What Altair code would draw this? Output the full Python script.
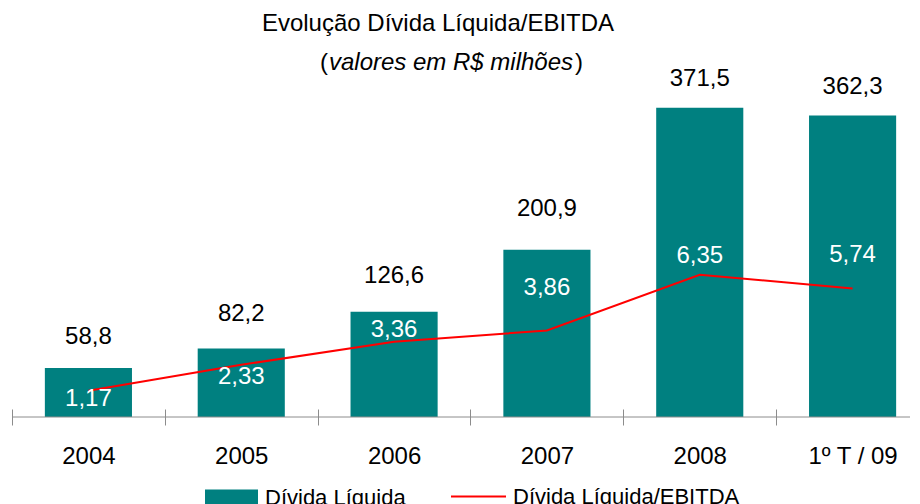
import altair as alt
import pandas as pd

# ---- data ----
categories = ["2004", "2005", "2006", "2007", "2008", "1º T / 09"]
divida_liquida = [58.8, 82.2, 126.6, 200.9, 371.5, 362.3]
divida_ebitda = [1.17, 2.33, 3.36, 3.86, 6.35, 5.74]

# ---- label placement (pixels; styling only) ----
bar_label_gap = [31, 35, 36, 41, 29, 28]          # label centre above bar top
ratio_label_shift = [8, 12, -12, -43, -19, -33]    # label centre vs. point (+ = down)

TITLE = "Evolução Dívida Líquida/EBITDA"
SUB = "valores em R$ milhões"
S1 = "Dívida Líquida"
S2 = "Dívida Líquida/EBITDA"

W, H = 917, 367
Y1_MAX, Y2_MAX = 441.0, 16.38
TEAL, RED, GREY = "#008080", "#ff0000", "#8c8c8c"
FONT = "Liberation Sans"
STEP = W / len(categories)

df = pd.DataFrame({
    "cat": categories,
    "divida": divida_liquida,
    "ratio": divida_ebitda,
    "gap": bar_label_gap,
    "shift": ratio_label_shift,
})
df["divida_lbl"] = [f"{v:.1f}".replace(".", ",") for v in divida_liquida]
df["ratio_lbl"] = [f"{v:.2f}".replace(".", ",") for v in divida_ebitda]

xscale = alt.Scale(domain=categories, paddingInner=0.43, paddingOuter=0.215)
xaxis = alt.Axis(labelAngle=0, domain=False, ticks=True, tickSize=16,
                 tickColor=GREY, tickWidth=1, tickOffset=-STEP / 2, labelOffset=STEP / 2,
                 offset=-8, labelFontSize=24, labelFont=FONT, labelColor="black",
                 labelPadding=19, grid=False, title=None)
x_enc = alt.X("cat:N", sort=categories, title=None, scale=xscale, axis=xaxis)
y1 = alt.Scale(domain=[0, Y1_MAX], nice=False, zero=True)
y2 = alt.Scale(domain=[0, Y2_MAX], nice=False, zero=True)

base = alt.Chart(df)

bars = base.transform_calculate(s1=f"'{S1}'").mark_bar().encode(
    x=x_enc,
    y=alt.Y("divida:Q", scale=y1, axis=None),
    color=alt.Color("s1:N", scale=alt.Scale(domain=[S1], range=[TEAL]),
                    legend=alt.Legend(orient="none", legendX=193, legendY=421, title=None,
                                      labelFontSize=22, labelFont=FONT, labelColor="black",
                                      labelLimit=0,
                                      symbolType="M-1,-0.3H1V0.3H-1Z", symbolSize=2809,
                                      symbolStrokeWidth=0, symbolOpacity=1,
                                      labelOffset=7, padding=0)),
)

baseline = alt.Chart(pd.DataFrame({"z": [0]})).mark_rule(color=GREY, strokeWidth=1).encode(
    y=alt.Y("z:Q", scale=y1, axis=None),
    x=alt.value(0),
    x2=alt.value(W),
)

line = base.transform_calculate(s2=f"'{S2}'").mark_line(strokeWidth=2).encode(
    x=x_enc,
    y=alt.Y("ratio:Q", scale=y2, axis=None),
    stroke=alt.Stroke("s2:N", scale=alt.Scale(domain=[S2], range=[RED]),
                      legend=alt.Legend(orient="none", legendX=438, legendY=418, title=None,
                                        labelFontSize=22, labelFont=FONT, labelColor="black",
                                        labelLimit=0,
                                        symbolType="stroke", symbolSize=3025,
                                        symbolStrokeWidth=2, labelOffset=6, padding=0)),
)

bar_lbl = base.transform_calculate(pos=f"datum.divida + datum.gap * {Y1_MAX / H}").mark_text(
    fontSize=24, font=FONT, color="black", baseline="middle"
).encode(
    x=x_enc,
    y=alt.Y("pos:Q", scale=y1, axis=None),
    text="divida_lbl:N",
)

ratio_lbl = base.transform_calculate(pos=f"datum.ratio - datum.shift * {Y2_MAX / H}").mark_text(
    fontSize=24, font=FONT, color="white", baseline="middle"
).encode(
    x=x_enc,
    y=alt.Y("pos:Q", scale=y2, axis=None),
    text="ratio_lbl:N",
)

title = alt.Chart(pd.DataFrame({"t": [TITLE]})).mark_text(
    font=FONT, fontSize=24, align="center", baseline="alphabetic", color="black"
).encode(text="t:N", x=alt.value(426), y=alt.value(-19))

sub = alt.Chart(pd.DataFrame({"t": [SUB]})).mark_text(
    font=FONT, fontSize=24, fontStyle="italic", align="center", baseline="alphabetic", color="black"
).encode(text="t:N", x=alt.value(439), y=alt.value(20))

sub_l = alt.Chart(pd.DataFrame({"t": ["("]})).mark_text(
    font=FONT, fontSize=24, align="right", baseline="alphabetic", color="black"
).encode(text="t:N", x=alt.value(316), y=alt.value(20))

sub_r = alt.Chart(pd.DataFrame({"t": [")"]})).mark_text(
    font=FONT, fontSize=24, align="left", baseline="alphabetic", color="black"
).encode(text="t:N", x=alt.value(563), y=alt.value(20))

chart = alt.layer(bars, baseline, line, bar_lbl, ratio_lbl, title, sub, sub_l, sub_r).resolve_scale(
    y="independent"
).properties(
    width=W, height=H,
    autosize=alt.AutoSizeParams(type="none"),
    padding={"left": 4, "top": 42, "right": -19, "bottom": 95},
    background="white",
).configure_view(stroke=None)

chart.save("out.html", embed_options={"renderer": "svg", "actions": False})
